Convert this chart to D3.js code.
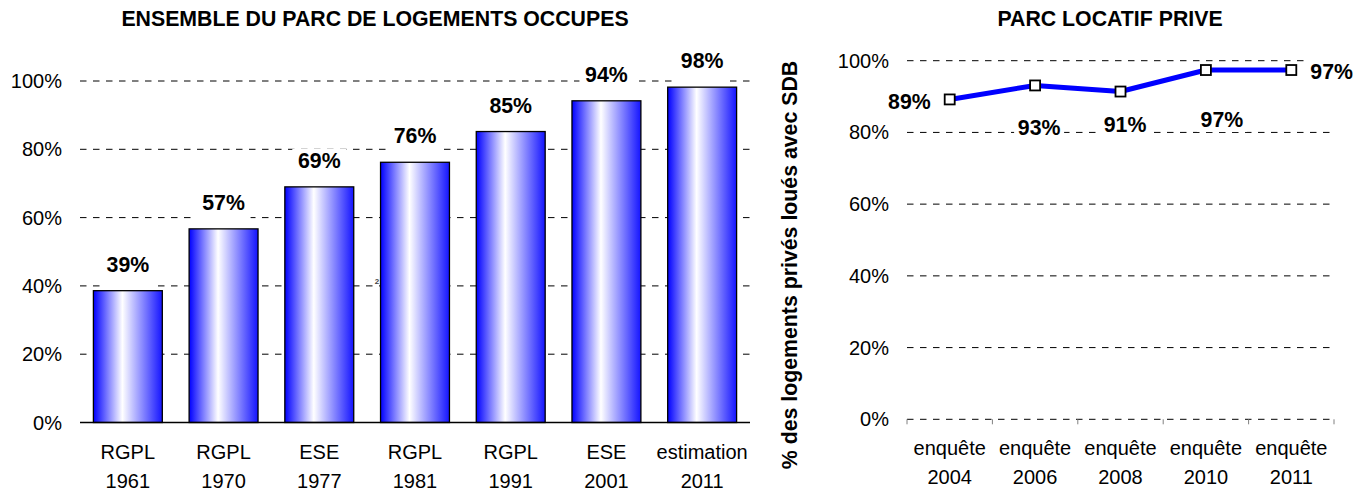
<!DOCTYPE html>
<html><head><meta charset="utf-8">
<script src="https://cdn.jsdelivr.net/npm/d3@7"></script>
<style>
html,body{margin:0;padding:0;background:#fff;}
svg{display:block;font-family:"Liberation Sans",Arial,sans-serif;}
</style></head>
<body>
<svg id="c" width="1366" height="492"></svg>
<script>
// ---- data ----
const barTitle = "ENSEMBLE DU PARC DE LOGEMENTS OCCUPES";
const barCategories = ["RGPL 1961","RGPL 1970","ESE 1977","RGPL 1981","RGPL 1991","ESE 2001","estimation 2011"];
const barValues = [0.386, 0.567, 0.690, 0.762, 0.852, 0.942, 0.982];
const lineTitle = "PARC LOCATIF PRIVE";
const lineAxisTitle = "% des logements privés loués avec SDB";
const lineCategories = ["enquête 2004","enquête 2006","enquête 2008","enquête 2010","enquête 2011"];
const lineValues = [0.892, 0.931, 0.914, 0.974, 0.974];
const yTicks = [0, 0.2, 0.4, 0.6, 0.8, 1.0];
// label placement for line data labels (dx, dy from marker, anchor)
const lineLabelPlacement = [[-19,2,"end"],[4,42,"middle"],[4.5,33,"middle"],[16,50,"middle"],[19,1.5,"start"]];

const svg = d3.select("#c");
const fmt = d3.format(".0%");
const FONT_BOLD = 21.3, FONT_TICK = 20;

// gradient
const defs = svg.append("defs");
const g = defs.append("linearGradient").attr("id","barGrad").attr("x1","0").attr("x2","1").attr("y1","0").attr("y2","0");
g.append("stop").attr("offset","0").attr("stop-color","#0000ff");
g.append("stop").attr("offset","0.42").attr("stop-color","#ffffff");
g.append("stop").attr("offset","1").attr("stop-color","#1414ff");

function splitLabel(sel, baseY1, baseY2){
  sel.each(function(d){
    const parts = d.split(" ");
    const t = d3.select(this);
    t.append("tspan").attr("x", t.attr("x")).attr("y", baseY1).text(parts[0]);
    t.append("tspan").attr("x", t.attr("x")).attr("y", baseY2).text(parts.slice(1).join(" "));
  });
}

// ---------- LEFT: bar chart ----------
{
  const x = d3.scaleBand().domain(barCategories).range([80,750]).paddingInner(0.28).paddingOuter(0.14);
  const y = d3.scaleLinear().domain([0,1]).range([422.5,81]);

  svg.append("text").attr("x",375).attr("y",26).attr("text-anchor","middle")
    .attr("font-weight","bold").attr("font-size",FONT_BOLD).text(barTitle);

  // gridlines
  svg.append("g").selectAll("line").data(yTicks.filter(d=>d>0)).join("line")
    .attr("x1",80).attr("x2",750).attr("y1",d=>y(d)).attr("y2",d=>y(d))
    .attr("stroke","#000").attr("stroke-width",1).attr("stroke-dasharray","6.5,6.5");

  // y tick labels
  svg.append("g").selectAll("text").data(yTicks).join("text")
    .attr("x",62).attr("y",d=>y(d)).attr("dy","0.35em").attr("text-anchor","end")
    .attr("font-size",FONT_TICK).text(d=>fmt(d));

  // label backgrounds + bars
  const lab = svg.append("g");
  barValues.forEach((v,i)=>{
    const cx = x(barCategories[i]) + x.bandwidth()/2;
    lab.append("rect").attr("x",cx-27).attr("width",54)
      .attr("y",y(v)-38).attr("height",35).attr("fill","#fff");
  });

  svg.append("g").selectAll("rect").data(barValues).join("rect")
    .attr("x",(d,i)=>x(barCategories[i])).attr("width",x.bandwidth())
    .attr("y",d=>y(d)).attr("height",d=>y(0)-y(d))
    .attr("fill","url(#barGrad)").attr("stroke","#000").attr("stroke-width",1.3);

  svg.append("g").selectAll("text").data(barValues).join("text")
    .attr("x",(d,i)=>x(barCategories[i]) + x.bandwidth()/2).attr("y",d=>y(d)-19)
    .attr("text-anchor","middle").attr("font-weight","bold").attr("font-size",FONT_BOLD)
    .text(d=>fmt(d));

  // baseline
  svg.append("line").attr("x1",80).attr("x2",750).attr("y1",y(0)).attr("y2",y(0))
    .attr("stroke","#000").attr("stroke-width",1.3);

  // category labels
  svg.append("g").selectAll("text").data(barCategories).join("text")
    .attr("x",d=>x(d)+x.bandwidth()/2).attr("text-anchor","middle").attr("font-size",FONT_TICK)
    .call(splitLabel,459,487.5);

  // small stray mark
  svg.append("text").attr("x",377).attr("y",284).attr("text-anchor","middle")
    .attr("font-size",8).attr("font-weight","bold").attr("fill","#444").text("2");
}

// ---------- RIGHT: line chart ----------
{
  const x = d3.scaleBand().domain(lineCategories).range([907,1334]).padding(0);
  const y = d3.scaleLinear().domain([0,1]).range([419.3,60.7]);
  const cx = d => x(d) + x.bandwidth()/2;

  svg.append("text").attr("x",1110).attr("y",26).attr("text-anchor","middle")
    .attr("font-weight","bold").attr("font-size",FONT_BOLD).text(lineTitle);

  svg.append("g").selectAll("line").data(yTicks).join("line")
    .attr("x1",907).attr("x2",1334).attr("y1",d=>y(d)).attr("y2",d=>y(d))
    .attr("stroke","#000").attr("stroke-width",1).attr("stroke-dasharray","6.5,6.5");

  // x tick marks at band boundaries
  const bounds = lineCategories.map(d=>x(d)).concat([x(lineCategories[lineCategories.length-1])+x.bandwidth()]);
  svg.append("g").selectAll("line").data(bounds).join("line")
    .attr("x1",d=>d).attr("x2",d=>d).attr("y1",y(0)).attr("y2",y(0)+5)
    .attr("stroke","#808080").attr("stroke-width",1);

  svg.append("g").selectAll("text").data(yTicks).join("text")
    .attr("x",889).attr("y",d=>y(d)).attr("dy","0.35em").attr("text-anchor","end")
    .attr("font-size",FONT_TICK).text(d=>fmt(d));

  svg.append("text").attr("transform","translate(797,265) rotate(-90)")
    .attr("text-anchor","middle").attr("font-weight","bold").attr("font-size",FONT_BOLD)
    .text(lineAxisTitle);

  svg.append("g").selectAll("text").data(lineCategories).join("text")
    .attr("x",d=>cx(d)).attr("text-anchor","middle").attr("font-size",FONT_TICK)
    .call(splitLabel,455,484);

  // data label backgrounds and text
  const lg = svg.append("g");
  lineValues.forEach((v,i)=>{
    const [dx,dy,anc] = lineLabelPlacement[i];
    const px = cx(lineCategories[i]) + dx, py = y(v) + dy;
    const w = 50;
    const left = anc==="end" ? px-w+4 : anc==="start" ? px-4 : px-w/2;
    lg.append("rect").attr("x",left).attr("y",py-12).attr("width",w).attr("height",24).attr("fill","#fff");
    lg.append("text").attr("x",px).attr("y",py).attr("dy","0.35em").attr("text-anchor",anc)
      .attr("font-weight","bold").attr("font-size",FONT_BOLD).text(fmt(v));
  });

  const line = d3.line().x((d,i)=>cx(lineCategories[i])).y(d=>y(d));
  svg.append("path").datum(lineValues).attr("d",line).attr("fill","none")
    .attr("stroke","#0000ff").attr("stroke-width",5).attr("stroke-linejoin","round");

  svg.append("g").selectAll("rect").data(lineValues).join("rect")
    .attr("x",(d,i)=>cx(lineCategories[i])-5).attr("y",d=>y(d)-5)
    .attr("width",10).attr("height",10).attr("fill","#fff").attr("stroke","#000").attr("stroke-width",1.8);
}
</script>
</body></html>
